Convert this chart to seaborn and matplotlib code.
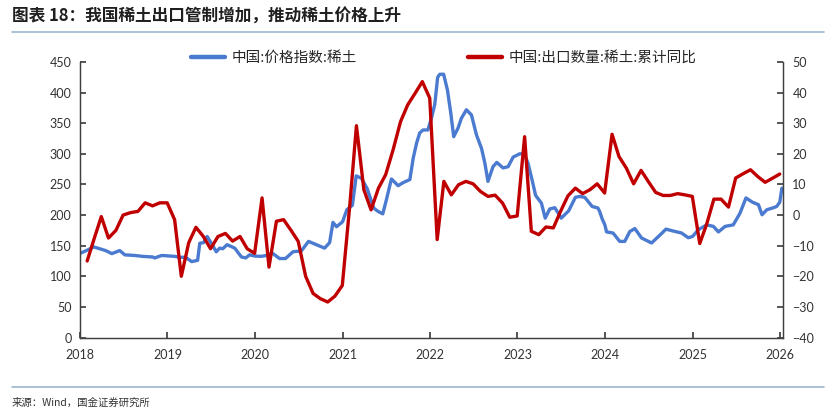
import matplotlib
matplotlib.use('Agg')
import matplotlib.pyplot as plt
from matplotlib.lines import Line2D
import seaborn as sns
import pandas as pd

# ---- data ----
price_label = "中国:价格指数:稀土"
export_label = "中国:出口数量:稀土:累计同比"

price_dates = [
    "2018-01-05", "2018-02-02", "2018-02-27", "2018-03-24", "2018-04-18", "2018-05-14",
    "2018-06-16", "2018-07-07", "2018-08-18", "2018-09-20", "2018-11-01", "2018-11-09",
    "2018-12-08", "2019-02-01", "2019-02-21", "2019-03-18", "2019-04-12", "2019-05-07",
    "2019-05-16", "2019-06-01", "2019-06-16", "2019-07-03", "2019-07-24", "2019-08-07",
    "2019-08-20", "2019-09-07", "2019-10-09", "2019-11-06", "2019-11-24", "2019-12-10",
    "2020-01-01", "2020-01-28", "2020-02-19", "2020-03-13", "2020-04-13", "2020-05-08",
    "2020-06-08", "2020-07-13", "2020-08-12", "2020-09-14", "2020-10-18", "2020-11-08",
    "2020-11-22", "2020-12-07", "2021-01-01", "2021-01-19", "2021-02-11", "2021-02-27",
    "2021-03-21", "2021-04-14", "2021-05-11", "2021-05-29", "2021-06-18", "2021-07-03",
    "2021-07-24", "2021-08-21", "2021-09-11", "2021-10-09", "2021-10-23", "2021-11-06",
    "2021-11-19", "2021-12-03", "2021-12-23", "2022-01-07", "2022-01-21", "2022-02-02",
    "2022-02-11", "2022-02-27", "2022-03-15", "2022-03-29", "2022-04-10", "2022-04-28",
    "2022-05-12", "2022-06-02", "2022-06-23", "2022-07-14", "2022-08-04", "2022-08-18",
    "2022-08-31", "2022-09-21", "2022-10-07", "2022-11-02", "2022-11-23", "2022-12-14",
    "2023-01-10", "2023-01-29", "2023-02-14", "2023-03-03", "2023-03-18", "2023-04-11",
    "2023-04-27", "2023-05-16", "2023-06-06", "2023-07-03", "2023-08-03", "2023-08-31",
    "2023-09-18", "2023-10-09", "2023-11-09", "2023-12-03", "2023-12-10", "2023-12-21",
    "2024-01-01", "2024-01-08", "2024-02-04", "2024-03-03", "2024-03-24", "2024-04-14",
    "2024-05-05", "2024-06-02", "2024-07-14", "2024-08-25", "2024-09-12", "2024-10-19",
    "2024-11-16", "2024-12-14", "2025-01-01", "2025-01-25", "2025-03-01", "2025-03-29",
    "2025-04-19", "2025-05-17", "2025-06-20", "2025-07-18", "2025-08-12", "2025-09-08",
    "2025-10-03", "2025-10-18", "2025-11-07", "2025-12-01", "2025-12-18", "2025-12-31",
    "2026-01-09",
]
price_index = [
    138, 143, 148, 145, 142, 137,
    142, 135, 134, 132.5, 131.5, 130,
    134, 132.5, 131, 131, 124, 126,
    154, 155, 165, 154, 140, 146,
    145, 151.6, 146, 131.5, 130, 135,
    133, 132.6, 134, 138, 129, 129,
    140, 141.5, 157, 151.6, 146, 155,
    188, 181, 189, 208.7, 216, 264,
    260, 243, 211.5, 206, 202, 225,
    259, 248, 253, 258, 293, 317.5,
    334, 339, 339, 358, 381, 425,
    430, 430, 404, 366, 328, 342,
    358, 372, 363.6, 331, 309, 285,
    255, 279, 286, 277, 279, 294.6,
    300, 300, 285, 257.6, 232, 219.6,
    195, 210, 212, 195, 207, 229,
    230.4, 229, 214, 211.5, 206, 193.5,
    184, 172.5, 170.7, 157, 157, 173,
    178, 162.6, 154.4, 170, 177, 173.3,
    170.7, 163, 165, 176, 184, 181.5,
    172.5, 181.5, 184, 203, 228, 221,
    217, 200.5, 208.7, 211.5, 214, 221,
    244,
]

export_dates = pd.date_range("2018-01-31", "2025-12-31", freq="ME")
export_yoy = [
    -15, -8, -0.5, -7.5, -5, 0, 0.8, 1.2, 4, 3, 4, 4,
    -1.5, -20, -9, -4, -7, -11, -7, -6, -8.5, -7, -11, -12.5,
    5.6, -17, -2, -1.5, -5, -8.6, -20, -25.6, -27.3, -28.4, -26.5, -23,
    3, 29.2, 8.3, 1.7, 8.8, 13.2, 21.3, 30.5, 36, 39.8, 43.6, 38.2,
    -8, 11, 6.6, 9.9, 11, 10.2, 7.7, 6.1, 6.5, 3.9, -0.7, -0.3,
    25.6, -5.3, -6.4, -3.9, -4.2, 1.2, 6.3, 8.8, 7, 8.3, 10.2, 7.2,
    26.4, 19.1, 15.3, 10.2, 14.6, 11, 7.4, 6.4, 6.4, 7, 6.6, 6.1,
    -9.3, -3.2, 5.2, 5.2, 2.6, 12.1, 13.5, 14.8, 12.6, 10.7, 12, 13.4,
]

year_ticks = [str(y) for y in range(2018, 2027)]

title = "图表 18：我国稀土出口管制增加，推动稀土价格上升"
source = "来源：Wind，国金证券研究所"

BLUE = "#4a7bd0"
RED = "#c00000"
AXC = "#404040"
RULE = "#9cb6ce"

sns.set_theme(style="ticks")
plt.rcParams["font.family"] = ["Lato", "Noto Sans CJK SC", "DejaVu Sans"]
plt.rcParams.update({
    "axes.edgecolor": AXC,
    "axes.linewidth": 0.9,
    "xtick.color": AXC,
    "ytick.color": AXC,
    "xtick.labelcolor": "#333333",
    "ytick.labelcolor": "#333333",
    "xtick.direction": "in",
    "ytick.direction": "in",
    "xtick.major.size": 4,
    "ytick.major.size": 4,
    "xtick.labelsize": 9,
    "ytick.labelsize": 9,
})

price_df = pd.DataFrame({"date": pd.to_datetime(price_dates), "value": price_index})
export_df = pd.DataFrame({"date": export_dates, "value": export_yoy})

fig = plt.figure(figsize=(8.34, 4.19), dpi=100)
ax = fig.add_axes([0.0959, 0.1945, 0.8425, 0.6575])
ax2 = ax.twinx()

sns.lineplot(data=price_df, x="date", y="value", ax=ax, color=BLUE, linewidth=2.4)
sns.lineplot(data=export_df, x="date", y="value", ax=ax2, color=RED, linewidth=2.4)

ax.set_xlim(pd.Timestamp("2018-01-01"), pd.Timestamp("2026-01-12"))
ax.set_ylim(0, 450)
ax.set_yticks(range(0, 451, 50))
ax2.set_ylim(-40, 50)
ax2.set_yticks(range(-40, 51, 10))
ax.set_xticks(pd.to_datetime([f"{y}-01-01" for y in year_ticks]))
ax.set_xticklabels(year_ticks)
ax.set_xlabel("")
ax.set_ylabel("")
ax2.set_ylabel("")
ax.tick_params(axis="x", pad=8)
ax.tick_params(axis="y", pad=6)
ax2.tick_params(axis="y", pad=7)
for a in (ax, ax2):
    a.spines["top"].set_visible(False)
    a.grid(False)

handles = [Line2D([], [], color=BLUE, linewidth=3.2),
           Line2D([], [], color=RED, linewidth=3.2)]
fig.legend(handles, [price_label, export_label], loc="center left",
           bbox_to_anchor=(191 / 834, 1 - 58 / 419), ncol=2, frameon=False,
           borderpad=0, borderaxespad=0, handlelength=2.35, handletextpad=0.45,
           columnspacing=7.6, prop={"family": ["Noto Sans CJK SC"], "size": 10.5})

fig.text(12 / 834, 1 - 17 / 419, title, ha="left", va="center",
         fontsize=12, fontweight="bold", color="#1f1f1f",
         family=["Noto Sans CJK SC", "DejaVu Sans"])
fig.text(12 / 834, 1 - 403 / 419, source, ha="left", va="center",
         fontsize=7.5, color="#333333", family=["Noto Sans CJK SC", "DejaVu Sans"])
fig.add_artist(Line2D([12 / 834, 824 / 834], [1 - 32 / 419] * 2,
                      color=RULE, linewidth=1.2, transform=fig.transFigure))
fig.add_artist(Line2D([12 / 834, 824 / 834], [1 - 387 / 419] * 2,
                      color=RULE, linewidth=1.2, transform=fig.transFigure))

fig.savefig("out.png", dpi=100)
